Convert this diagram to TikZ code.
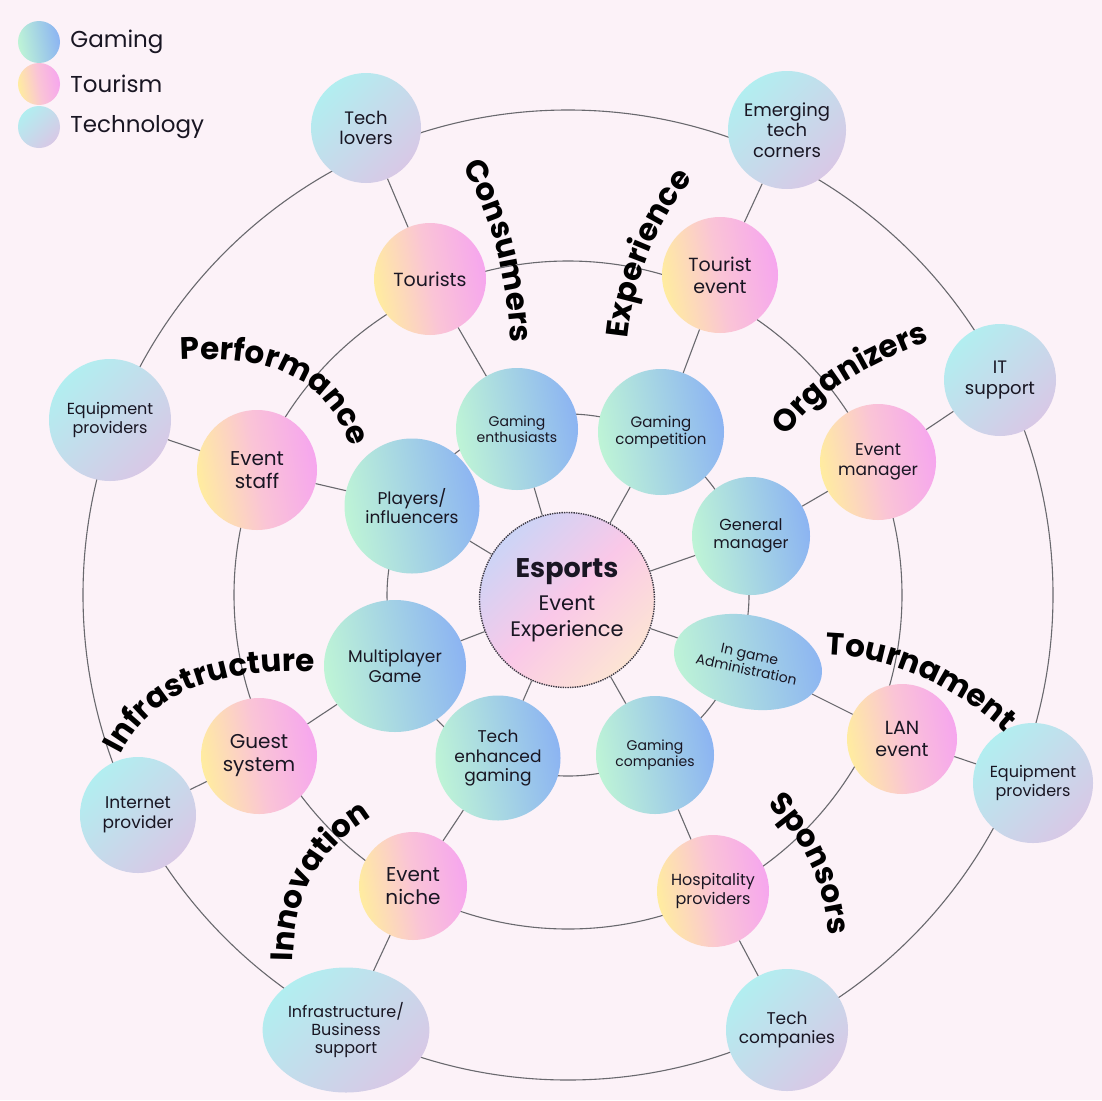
\documentclass[tikz,border=0pt]{standalone}
\usepackage{fontspec}
\setmainfont{Poppins}
\usetikzlibrary{positioning,shapes.geometric,decorations.text}
\definecolor{bgpink}{RGB}{252,242,248}
\definecolor{gmint}{RGB}{190,244,214}
\definecolor{gblue}{RGB}{140,180,242}
\definecolor{tyellow}{RGB}{255,236,160}
\definecolor{tpink}{RGB}{250,196,214}
\definecolor{tmagenta}{RGB}{246,166,238}
\definecolor{kcyan}{RGB}{178,238,240}
\definecolor{klav}{RGB}{216,200,230}
\definecolor{elav}{RGB}{204,212,246}
\definecolor{epink}{RGB}{250,200,232}
\definecolor{epeach}{RGB}{252,228,212}
\definecolor{ringgray}{RGB}{105,105,110}
\definecolor{inkdark}{RGB}{25,22,35}
\newcommand{\nodefont}[1]{\fontsize{#1}{\fpeval{1.15*#1}}\selectfont}

\begin{document}
\begin{tikzpicture}[x=1pt, y=-1pt,
  every node/.style={text=inkdark},
  gaming/.style={circle, left color=gmint, right color=gblue, shading angle=100,
    minimum size=#1, inner sep=1pt, align=center},
  gaming/.default=120pt,
  tourism/.style={circle, left color=tyellow, right color=tmagenta, middle color=tpink,
    shading angle=100, minimum size=#1, inner sep=1pt, align=center},
  tourism/.default=114pt,
  tech/.style={circle, top color=kcyan, bottom color=klav, shading angle=45,
    minimum size=#1, inner sep=1pt, align=center},
  tech/.default=116pt,
  ring/.style={draw=ringgray, line width=1.1pt},
  link/.style={draw=ringgray, line width=1.1pt},
  legtext/.style={font=\nodefont{23}, inner sep=0pt},
  arclabel/.style={decorate, decoration={text along path, text align=center,
    text={|\nodefont{31}\bfseries|#1}}}
]
\path[use as bounding box, fill=bgpink] (0,0) rectangle (1102,1100);

% rings
\draw[ring] (568,595) circle[radius=181pt];
\draw[ring] (568,595) circle[radius=334pt];
\draw[ring] (568,595) circle[radius=485pt];

% legend
\node[gaming=42pt] (lg) at (39,42) {};
\node[tourism=42pt] (lt) at (39,84) {};
\node[tech=42pt] (lk) at (39,127) {};
\node[legtext, right=10pt of lg] (lgtxt) {Gaming};
\node[legtext, right=10pt of lt] (lttxt) {Tourism};
\node[legtext, right=10pt of lk] (lktxt) {Technology};

% centre
\node[circle, top color=elav, bottom color=epeach, middle color=epink, shading angle=45,
      draw=inkdark!85, densely dotted, line width=1.4pt, minimum size=175pt,
      align=center, font=\fontsize{21}{26}\selectfont]
      (esp) at (567,600) {{\nodefont{27}\bfseries Esports}\\[7pt]Event\\Experience};

% gaming ring
\node[gaming=122pt, font=\nodefont{14}] (genth) at (517,429) {Gaming\\enthusiasts};
\node[gaming=126pt, font=\nodefont{15}] (gcomp) at (661,432) {Gaming\\competition};
\node[gaming=118pt, font=\nodefont{16}] (gman) at (751,536) {General\\manager};
\node[gaming, ellipse, minimum width=150pt, minimum height=93pt, rotate=-12,
      font=\nodefont{14}] (gadmin) at (748,662) {In game\\Administration};
\node[gaming=118pt, font=\nodefont{14}] (gcos) at (655,755) {Gaming\\companies};
\node[gaming=125pt, font=\nodefont{17}] (gtech) at (498,758) {Tech\\enhanced\\gaming};
\node[gaming, ellipse, minimum width=142pt, minimum height=132pt,
      font=\nodefont{17}] (gmulti) at (395,666) {Multiplayer\\Game};
\node[gaming=135pt, font=\nodefont{17}] (gplay) at (412,506) {Players/\\influencers};

% tourism ring
\node[tourism=112pt, font=\nodefont{19}] (ttour) at (430,279) {Tourists};
\node[tourism=116pt, font=\nodefont{19}] (tevent) at (720,275) {Tourist\\event};
\node[tourism=116pt, font=\nodefont{17}] (tman) at (878,462) {Event\\manager};
\node[tourism=110pt, font=\nodefont{19}] (tlan) at (902,739) {LAN\\event};
\node[tourism=112pt, font=\nodefont{16}] (thosp) at (713,891) {Hospitality\\providers};
\node[tourism=108pt, font=\nodefont{20}] (tniche) at (413,886) {Event\\niche};
\node[tourism=116pt, font=\nodefont{20}] (tguest) at (259,756) {Guest\\system};
\node[tourism=120pt, font=\nodefont{20}] (tstaff) at (257,470) {Event\\staff};

% technology ring
\node[tech=110pt, font=\nodefont{18}] (klovers) at (366,128) {Tech\\lovers};
\node[tech=118pt, font=\nodefont{18}] (kcorner) at (787,130) {Emerging\\tech\\corners};
\node[tech=112pt, font=\nodefont{18}] (kit) at (1000,380) {IT\\support};
\node[tech=120pt, font=\nodefont{16}] (kequipR) at (1033,783) {Equipment\\providers};
\node[tech=122pt, font=\nodefont{17}] (kcompany) at (787,1030) {Tech\\companies};
\node[tech, ellipse, minimum width=150pt, minimum height=125pt,
      font=\nodefont{16}] (kinfra) at (346,1030) {Infrastructure/\\Business\\support};
\node[tech=116pt, font=\nodefont{17}] (knet) at (138,815) {Internet\\provider};
\node[tech=122pt, font=\nodefont{16}] (kequipL) at (110,420) {Equipment\\providers};

% spokes
\foreach \a/\b in {esp/genth, esp/gcomp, esp/gman, esp/gadmin, esp/gcos, esp/gtech,
    esp/gmulti, esp/gplay, genth/ttour, gcomp/tevent, gman/tman, gadmin/tlan,
    gcos/thosp, gtech/tniche, gmulti/tguest, gplay/tstaff, ttour/klovers,
    tevent/kcorner, tman/kit, tlan/kequipR, thosp/kcompany, tniche/kinfra,
    tguest/knet, tstaff/kequipL}
  \draw[link] (\a) -- (\b);

% curved labels
\path[arclabel=Consumers] (458,160) .. controls (488,205) and (508,270) .. (511,350);
\path[arclabel=Experience] (627,350) .. controls (630,290) and (655,220) .. (700,170);
\path[arclabel=Performance] (178,360) .. controls (260,355) and (325,370) .. (352,450);
\path[arclabel=Organizers] (782,445) .. controls (805,405) and (850,370) .. (938,338);
\path[arclabel=Infrastructure] (118,760) .. controls (150,690) and (220,668) .. (320,672);
\path[arclabel=Tournament] (822,655) .. controls (880,655) and (950,680) .. (1008,735);
\path[arclabel=Innovation] (293,965) .. controls (293,905) and (310,855) .. (375,815);
\path[arclabel=Sponsors] (757,795) .. controls (795,830) and (825,870) .. (830,950);
\end{tikzpicture}
\end{document}
